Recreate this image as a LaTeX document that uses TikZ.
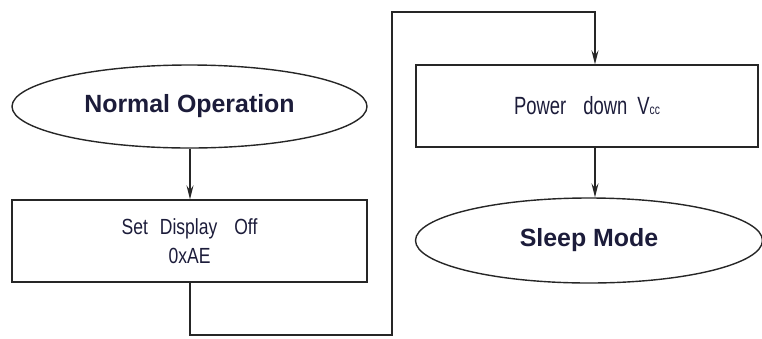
\documentclass[tikz,border=0pt]{standalone}
\usepackage{fontspec}
\setmainfont{Liberation Sans}
\newfontfamily\boxfont[FakeStretch=0.8]{Liberation Sans}
\newfontfamily\pwrfont[FakeStretch=0.74]{Liberation Sans}
\usetikzlibrary{shapes.geometric,arrows.meta}
\definecolor{txt}{HTML}{1C1C3A}
\begin{document}
\begin{tikzpicture}[x=1bp,y=-1bp,
  line/.style={draw=black!85,line width=1.4bp},
  arr/.style={line,-{Stealth[length=14bp,width=7bp,inset=5bp]}},
  oval/.style={ellipse,draw=black!85,line width=1.4bp,inner sep=0pt,
     font=\fontsize{25}{27}\selectfont\bfseries,text=txt},
  stepbox/.style={rectangle,draw=black!85,line width=1.4bp,inner sep=0pt,
     font=\boxfont\fontsize{22}{29}\selectfont,text=txt,align=center}]
\useasboundingbox (0,0) rectangle (762,338);
\node[oval,minimum width=355bp,minimum height=83bp] (normal) at (189.5,106.5) {Normal Operation};
\node[stepbox,minimum width=355bp,minimum height=82bp] (disp) at (189.5,241) {Set\hspace{12bp}Display\hspace{17bp}Off\\0xAE};
\node[stepbox,minimum width=342bp,minimum height=82bp] (pwr) at (587,106) {\pwrfont\fontsize{25}{27}\selectfont Power\hspace{17bp}down\hspace{10bp}V{\fontsize{14}{14}\selectfont cc}};
\node[oval,minimum width=347bp,minimum height=85bp] (sleep) at (589,240.5) {Sleep Mode};
\coordinate (c1) at (190,335);
\coordinate (c2) at (392,335);
\coordinate (c3) at (392,12);
\coordinate (c4) at (595,12);
\draw[arr] (normal.south -| 190,0) -- (disp.north -| 190,0);
\draw[arr] (disp.south -| c1) -- (c1) -- (c2) -- (c3) -- (c4) -- (pwr.north -| c4);
\draw[arr] (pwr.south -| c4) -- (sleep.north -| c4);
\end{tikzpicture}
\end{document}
